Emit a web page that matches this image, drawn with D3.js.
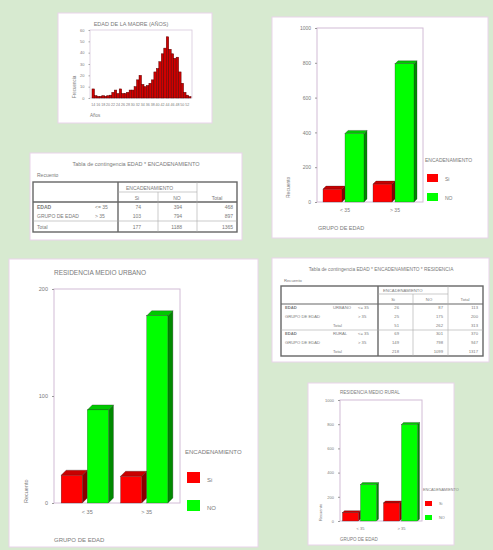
<!DOCTYPE html>
<html>
<head>
<meta charset="utf-8">
<script src="https://cdn.jsdelivr.net/npm/d3@7"></script>
<style>
  html, body { margin: 0; padding: 0; background: #d7ead0; }
  svg { display: block; font-family: "Liberation Sans", Arial, sans-serif; }
</style>
</head>
<body>
<svg id="board" width="493" height="550"></svg>
<script>
// ---- data ----------------------------------------------------------
const ageGroups = ["< 35", "> 35"];
const outcomeCats = ["Si", "NO"];

// all births
const totalSi = [74, 103];
const totalNo = [394, 794];
// urban residence
const urbanSi = [26, 25];
const urbanNo = [87, 175];
// rural residence
const ruralSi = [69, 149];
const ruralNo = [301, 798];

const countTicks = [0, 200, 400, 600, 800, 1000];
const urbanTicks = [0, 100, 200];
const ruralTicks = [0, 200, 400, 600, 800, 1000];

// mother's age histogram
const histYears = [14, 15, 16, 17, 18, 19, 20, 21, 22, 23, 24, 25, 26, 27, 28, 29, 30, 31, 32, 33,
                   34, 35, 36, 37, 38, 39, 40, 41, 42, 43, 44, 45, 46, 47, 48, 49, 50, 51, 52, 53];
const histCounts = [8, 2, 1.5, 1.5, 2, 1.5, 2, 2.5, 5, 7, 4, 8, 4, 4, 5, 7, 7, 10, 16, 20,
                    12, 10, 11, 13, 16, 23, 26, 32, 39, 44, 54, 43, 39, 35, 36, 23, 13, 5, 2.5, 1.2];
const histTicks = [0, 10, 20, 30, 40, 50, 60];

const colors = { Si: "#ff0000", NO: "#00ff00" };
const topShade = { Si: "#c80000", NO: "#00c800" };
const sideShade = { Si: "#8a0000", NO: "#008a00" };

const txt = "#7a7a7a";
const svg = d3.select("#board");

// ---- panels ---------------------------------------------------------
function panel(x, y, w, h) {
  svg.append("rect").attr("x", x).attr("y", y).attr("width", w).attr("height", h)
    .attr("fill", "#fff").attr("stroke", "#e9d3ea").attr("stroke-width", 1);
}
function label(g, x, y, s, size, anchor, extra) {
  const t = g.append("text").attr("x", x).attr("y", y).text(s)
    .attr("font-size", size).attr("fill", txt).attr("text-anchor", anchor || "start");
  if (extra) extra(t);
  return t;
}

panel(58, 13, 154, 110);
panel(30, 153, 212, 87);
panel(272, 17, 216, 221);
panel(9, 259, 249, 288);
panel(272, 258, 217, 104);
panel(308, 383, 146, 162);

// ---- histogram ----------------------------------------------------------
(function () {
  const g = svg.append("g");
  const x = d3.scaleBand().domain(histYears).range([92, 191]).padding(0);
  const y = d3.scaleLinear().domain([0, 60]).range([98, 30]);
  g.append("rect").attr("x", 90).attr("y", 30).attr("width", 102).attr("height", 68)
    .attr("fill", "none").attr("stroke", "#d8c8dc").attr("stroke-width", 0.8);
  g.selectAll("rect.bin").data(histYears).join("rect").attr("class", "bin")
    .attr("x", d => x(d)).attr("width", x.bandwidth())
    .attr("y", (d, i) => y(histCounts[i])).attr("height", (d, i) => y(0) - y(histCounts[i]))
    .attr("fill", "#d00000").attr("stroke", "#5a0000").attr("stroke-width", 0.5);
  const ya = g.append("g").attr("transform", "translate(90,0)")
    .call(d3.axisLeft(y).tickValues(histTicks).tickSize(1.5));
  ya.select(".domain").remove();
  ya.selectAll("line").attr("stroke", "#aaa");
  ya.selectAll("text").attr("font-size", 4).attr("fill", txt).attr("dx", -1);
  const xa = g.append("g").attr("transform", "translate(0,98)")
    .call(d3.axisBottom(x).tickValues(histYears.filter((d, i) => i % 2 === 0)).tickSize(1));
  xa.select(".domain").remove();
  xa.selectAll("line").attr("stroke", "#aaa");
  xa.selectAll("text").attr("font-size", 3.6).attr("fill", txt).attr("dy", 4);
  label(g, 131, 26, "EDAD DE LA MADRE (AÑOS)", 5.5, "middle");
  label(g, 0, 0, "Frecuencia", 4.5, "start", t => t.attr("transform", "translate(76,98) rotate(-90)"));
  label(g, 90, 117, "Años", 4.5);
})();

// ---- clustered 3D bar chart ------------------------------------------------
function barChart(o) {
  const g = svg.append("g");
  const x0 = d3.scaleBand().domain(ageGroups).range([o.x0, o.x1])
    .paddingInner(o.pi).paddingOuter(o.po);
  const x1 = d3.scaleBand().domain(outcomeCats).range([0, x0.bandwidth()]);
  const y = d3.scaleLinear().domain([0, o.yMax]).range([o.y1, o.y0]);
  const d = o.depth;

  g.append("rect").attr("x", o.x0).attr("y", o.y0)
    .attr("width", o.x1 - o.x0).attr("height", o.y1 - o.y0)
    .attr("fill", "none").attr("stroke", "#d2bcd6").attr("stroke-width", 1);

  const ya = g.append("g").attr("transform", `translate(${o.x0},0)`)
    .call(d3.axisLeft(y).tickValues(o.ticks).tickSize(2).tickFormat(d3.format("d")));
  ya.select(".domain").remove();
  ya.selectAll("line").attr("stroke", "#999");
  ya.selectAll("text").attr("font-size", o.tickSize).attr("fill", txt).attr("dx", -1);

  const xa = g.append("g").attr("transform", `translate(0,${o.y1})`)
    .call(d3.axisBottom(x0).tickSize(0));
  xa.select(".domain").remove();
  xa.selectAll("text").attr("font-size", o.tickSize).attr("fill", txt).attr("dy", o.tickSize + 2);

  const rows = [];
  ageGroups.forEach((a, i) => {
    outcomeCats.forEach(c => rows.push({ a, c, v: (c === "Si" ? o.si : o.no)[i] }));
  });
  const bars = g.selectAll("g.bar").data(rows).join("g").attr("class", "bar");
  bars.each(function (r) {
    const b = d3.select(this);
    const bx = x0(r.a) + x1(r.c);
    const w = x1.bandwidth() - d;
    const yt = y(r.v), yb = y(0);
    b.append("polygon")
      .attr("points", [[bx + w, yb], [bx + w + d, yb - d], [bx + w + d, yt - d], [bx + w, yt]].join(" "))
      .attr("fill", sideShade[r.c]).attr("stroke", "#222").attr("stroke-width", 0.3);
    b.append("polygon")
      .attr("points", [[bx, yt], [bx + d, yt - d], [bx + w + d, yt - d], [bx + w, yt]].join(" "))
      .attr("fill", topShade[r.c]).attr("stroke", "#222").attr("stroke-width", 0.3);
    b.append("rect").attr("x", bx).attr("y", yt).attr("width", w).attr("height", yb - yt)
      .attr("fill", colors[r.c]).attr("stroke", "#333").attr("stroke-width", 0.3);
  });

  if (o.title) label(g, o.title[0], o.title[1], o.title[2], o.titleSize, "start");
  label(g, 0, 0, "Recuento", o.tickSize, "start",
    t => t.attr("transform", `translate(${o.yTitle[0]},${o.yTitle[1]}) rotate(-90)`));
  label(g, o.xTitle[0], o.xTitle[1], "GRUPO DE EDAD", o.tickSize + 0.5);

  const L = o.legend;
  label(g, L.x, L.y, "ENCADENAMIENTO", L.size);
  outcomeCats.forEach((c, i) => {
    g.append("rect").attr("x", L.x + 2).attr("y", L.y + L.gap * (i + 1) - L.sh + 1)
      .attr("width", L.sw).attr("height", L.sh).attr("fill", colors[c]);
    label(g, L.x + L.sw + 9, L.y + L.gap * (i + 1), c, L.size);
  });
}

barChart({
  x0: 317, x1: 423, y0: 28, y1: 202, pi: 0.12, po: 0.12, depth: 3,
  yMax: 1000, ticks: countTicks, si: totalSi, no: totalNo, tickSize: 5,
  yTitle: [290, 198], xTitle: [318, 230],
  legend: { x: 425, y: 162, size: 5, gap: 19, sw: 11, sh: 8 }
});

barChart({
  x0: 54, x1: 180, y0: 289, y1: 503, pi: 0.12, po: 0.12, depth: 5,
  yMax: 200, ticks: urbanTicks, si: urbanSi, no: urbanNo, tickSize: 5.5,
  title: [54, 275, "RESIDENCIA MEDIO URBANO"], titleSize: 6.5,
  yTitle: [28, 503], xTitle: [54, 542],
  legend: { x: 185, y: 454, size: 6, gap: 28, sw: 13, sh: 11 }
});

barChart({
  x0: 340, x1: 422, y0: 400, y1: 521, pi: 0.12, po: 0.06, depth: 2,
  yMax: 1000, ticks: ruralTicks, si: ruralSi, no: ruralNo, tickSize: 4,
  title: [340, 394, "RESIDENCIA MEDIO RURAL"], titleSize: 4.5,
  yTitle: [322, 521], xTitle: [340, 541],
  legend: { x: 423, y: 491, size: 3.8, gap: 14, sw: 7, sh: 5 }
});

// ---- crosstab tables ------------------------------------------------------
function line(g, x1, y1, x2, y2, w) {
  g.append("line").attr("x1", x1).attr("y1", y1).attr("x2", x2).attr("y2", y2)
    .attr("stroke", w > 1 ? "#666" : "#aaa").attr("stroke-width", w);
}

(function () {
  const g = svg.append("g");
  const fs = 5;
  label(g, 136, 166, "Tabla de contingencia EDAD * ENCADENAMIENTO", 5.5, "middle");
  label(g, 37, 177, "Recuento", fs);
  g.append("rect").attr("x", 33).attr("y", 182).attr("width", 204).attr("height", 50)
    .attr("fill", "none").attr("stroke", "#666").attr("stroke-width", 1.4);
  line(g, 118, 182, 118, 232, 1.4);
  line(g, 33, 202, 237, 202, 1.4);
  line(g, 118, 192, 197, 192, 0.6);
  line(g, 158, 192, 158, 232, 0.6);
  line(g, 197, 182, 197, 232, 0.6);
  line(g, 33, 221, 237, 221, 0.6);
  label(g, 126, 190, "ENCADENAMIENTO", fs);
  label(g, 137, 200, "Si", fs, "middle");
  label(g, 177, 200, "NO", fs, "middle");
  label(g, 217, 200, "Total", fs, "middle");
  label(g, 37, 209, "EDAD", fs, "start", t => t.attr("font-weight", "bold"));
  label(g, 37, 218, "GRUPO DE EDAD", fs);
  label(g, 37, 229, "Total", fs);
  const rowsY = [209, 218];
  ageGroups.forEach((a, i) => {
    label(g, 95, rowsY[i], a.replace("<", "<=").replace(">", ">"), fs);
    label(g, 141, rowsY[i], totalSi[i], fs, "end");
    label(g, 182, rowsY[i], totalNo[i], fs, "end");
    label(g, 233, rowsY[i], totalSi[i] + totalNo[i], fs, "end");
  });
  label(g, 141, 229, d3.sum(totalSi), fs, "end");
  label(g, 182, 229, d3.sum(totalNo), fs, "end");
  label(g, 233, 229, d3.sum(totalSi) + d3.sum(totalNo), fs, "end");
})();

(function () {
  const g = svg.append("g");
  const fs = 4.2;
  label(g, 381, 271, "Tabla de contingencia EDAD * ENCADENAMIENTO * RESIDENCIA", 4.8, "middle");
  label(g, 284, 282, "Recuento", fs);
  g.append("rect").attr("x", 281).attr("y", 286).attr("width", 202).attr("height", 70)
    .attr("fill", "none").attr("stroke", "#666").attr("stroke-width", 1.4);
  line(g, 378, 286, 378, 356, 1.4);
  line(g, 281, 304, 483, 304, 1.2);
  line(g, 378, 294, 448, 294, 0.6);
  line(g, 413, 294, 413, 356, 0.6);
  line(g, 448, 286, 448, 356, 0.6);
  line(g, 281, 330, 483, 330, 0.6);
  label(g, 383, 292, "ENCADENAMIENTO", fs);
  label(g, 393, 301, "Si", fs, "middle");
  label(g, 429, 301, "NO", fs, "middle");
  label(g, 465, 301, "Total", fs, "middle");

  const blocks = [
    { name: "URBANO", si: urbanSi, no: urbanNo, y: 309 },
    { name: "RURAL", si: ruralSi, no: ruralNo, y: 335 }
  ];
  blocks.forEach(b => {
    const ys = [b.y, b.y + 8.5, b.y + 18];
    label(g, 285, ys[0], "EDAD", fs, "start", t => t.attr("font-weight", "bold"));
    label(g, 285, ys[1], "GRUPO DE EDAD", fs);
    label(g, 333, ys[0], b.name, fs);
    label(g, 333, ys[2], "Total", fs);
    ageGroups.forEach((a, i) => {
      label(g, 358, ys[i], a.replace("<", "<="), fs);
      label(g, 399, ys[i], b.si[i], fs, "end");
      label(g, 443, ys[i], b.no[i], fs, "end");
      label(g, 478, ys[i], b.si[i] + b.no[i], fs, "end");
    });
    label(g, 399, ys[2], d3.sum(b.si), fs, "end");
    label(g, 443, ys[2], d3.sum(b.no), fs, "end");
    label(g, 478, ys[2], d3.sum(b.si) + d3.sum(b.no), fs, "end");
  });
})();
</script>
</body>
</html>
